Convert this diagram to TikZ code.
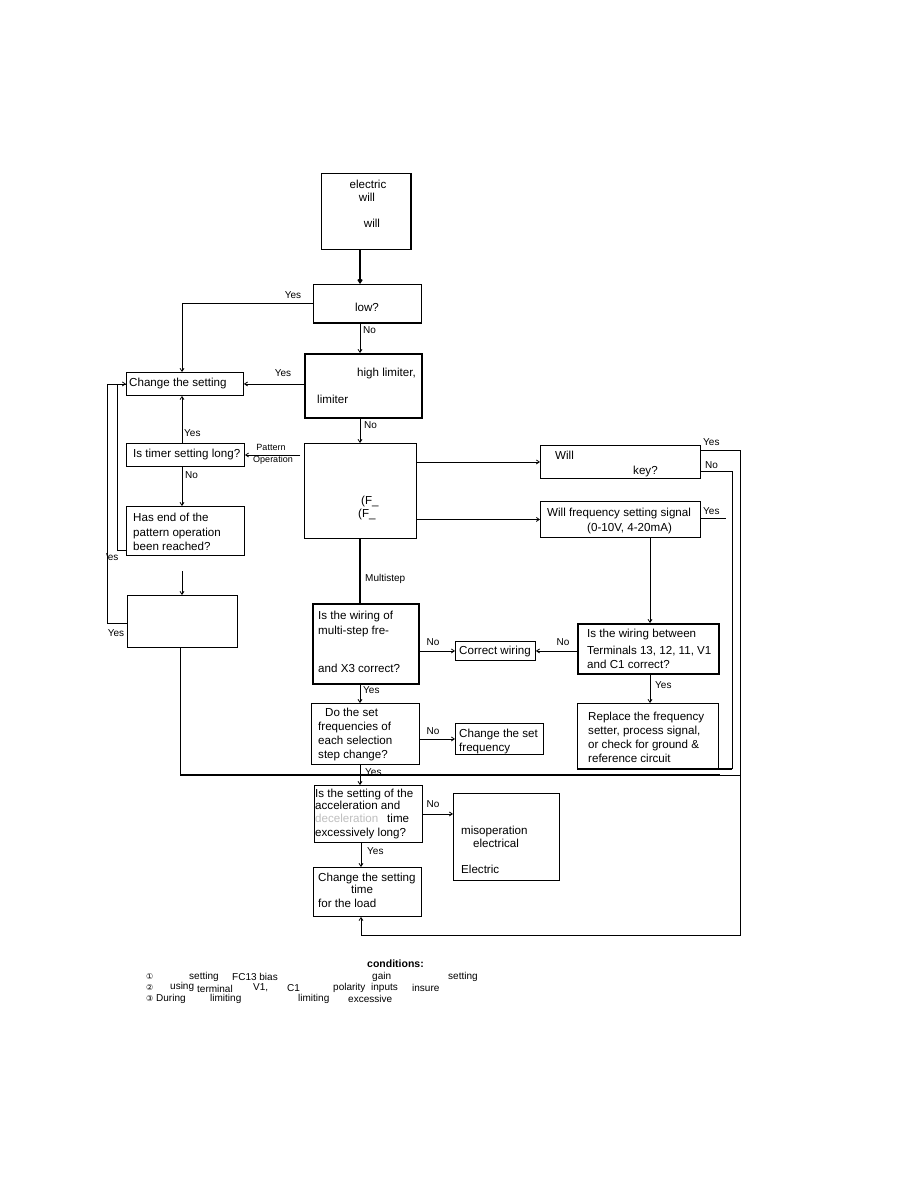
\documentclass[tikz,border=0pt]{standalone}
\usepackage{fontspec}
\setmainfont{Liberation Sans}
\newfontfamily\symfont{DejaVu Sans}
\usetikzlibrary{arrows.meta}
\begin{document}
\begin{tikzpicture}[x=1pt,y=-1pt,
  bx/.style={draw, rectangle, inner sep=0pt, anchor=north west, line width=0.9pt},
  bxt/.style={bx, line width=1.5pt},
  tx/.style={anchor=base west, inner sep=0pt, font=\fontsize{11.6}{14}\selectfont},
  txc/.style={anchor=base, inner sep=0pt, font=\fontsize{11.6}{14}\selectfont},
  lb/.style={inner sep=0pt, font=\fontsize{10}{12}\selectfont},
  lbw/.style={lb, anchor=west},
  nt/.style={anchor=west, inner sep=0pt, font=\fontsize{10}{11}\selectfont},
  ln/.style={line width=0.8pt},
  lnt/.style={line width=1.6pt},
  arr/.style={line width=0.8pt, -{Straight Barb[length=3pt,width=4pt]}},
  arrt/.style={line width=1.6pt, -{Straight Barb[length=3pt,width=4pt]}}]
\fill[white] (0,0) rectangle (920,1188);
\useasboundingbox (0,0) rectangle (920,1188);

% column coordinates
\coordinate (sp) at (360,0);
\coordinate (lc) at (182,0);
\coordinate (c2) at (650,0);

% boxes
\node[bx, minimum width=89pt, minimum height=76pt] (tb) at (321,173) {};
\draw[line width=1.6pt] (tb.north east) -- (tb.south east);
\node[bx, minimum width=108pt, minimum height=38pt] (q1) at (313,284) {};
\draw[line width=1.6pt] (q1.south west) -- (q1.south east);
\node[bxt, minimum width=117pt, minimum height=64pt] (q2) at (304,353) {};
\node[bx, minimum width=117pt, minimum height=23pt] (chg) at (126,372) {};
\node[bx, minimum width=118pt, minimum height=23pt] (timer) at (126,443) {};
\node[bx, minimum width=118pt, minimum height=49pt] (hasend) at (126,506) {};
\node[bx, minimum width=110pt, minimum height=52pt] (lowl) at (127,595) {};
\node[bx, minimum width=112pt, minimum height=95pt] (big) at (304,443) {};
\node[bx, minimum width=160pt, minimum height=33pt] (willkey) at (540,445) {};
\node[bx, minimum width=160pt, minimum height=36pt] (willfreq) at (540,501) {};
\node[bxt, minimum width=106pt, minimum height=80pt] (multi) at (312,603) {};
\node[bx, minimum width=80pt, minimum height=19pt] (corr) at (455,641) {};
\node[bxt, minimum width=141pt, minimum height=50pt] (wirq) at (577,623) {};
\node[bx, minimum width=141pt, minimum height=65pt] (repl) at (577,703) {};
\node[bx, minimum width=108pt, minimum height=61pt] (doset) at (311,703) {};
\node[bx, minimum width=88pt, minimum height=31pt] (chgf) at (455,723) {};
\node[bx, minimum width=108pt, minimum height=57pt] (accel) at (314,785) {};
\node[bx, minimum width=106pt, minimum height=87pt] (misop) at (453,793) {};
\node[bx, minimum width=108pt, minimum height=49pt] (chgt) at (313,867) {};

% texts in boxes
\node[txc] (tb1) at (368,188) {electric};
\node[txc] (tb2) at (367,201) {will};
\node[txc] (tb3) at (372,227) {will};
\node[txc] (q1t) at (367,311) {low?};
\node[tx] (q2a) at (357,376) {high limiter,};
\node[tx] (q2b) at (317,403) {limiter};
\node[tx] (chgt1) at (129,386) {Change the setting};
\node[tx] (tmt) at (133,457) {Is timer setting long?};
\node[tx] (he1) at (133,521) {Has end of the};
\node[tx] (he2) at (133,536) {pattern operation};
\node[tx] (he3) at (133,550) {been reached?};
\node[tx] (bg1) at (361,504) {(F\_};
\node[tx] (bg2) at (358,517) {(F\_};
\node[tx] (wk1) at (555,459) {Will};
\node[tx] (wk2) at (633,474) {key?};
\node[tx] (wf1) at (547,516) {Will frequency setting signal};
\node[tx] (wf2) at (587,531) {(0-10V, 4-20mA)};
\node[tx] (mu1) at (318,619) {Is the wiring of};
\node[tx] (mu2) at (318,634) {multi-step fre-};
\node[tx] (mu3) at (318,672) {and X3 correct?};
\node[tx] (co1) at (459,654) {Correct wiring};
\node[tx] (wq1) at (587,637) {Is the wiring between};
\node[tx] (wq2) at (587,654) {Terminals 13, 12, 11, V1};
\node[tx] (wq3) at (587,668) {and C1 correct?};
\node[tx] (rp1) at (588,720) {Replace the frequency};
\node[tx] (rp2) at (588,734) {setter, process signal,};
\node[tx] (rp3) at (588,748) {or check for ground \&};
\node[tx] (rp4) at (588,762) {reference circuit};
\node[tx] (cf1) at (459,737) {Change the set};
\node[tx] (cf2) at (459,751) {frequency};
\node[tx] (ds1) at (325,716) {Do the set};
\node[tx] (ds2) at (318,730) {frequencies of};
\node[tx] (ds3) at (318,744) {each selection};
\node[tx] (ds4) at (318,758) {step change?};
\node[tx] (ac1) at (315,797) {Is the setting of the};
\node[tx] (ac2) at (315,809) {acceleration and};
\node[tx, text=black!25] (ac3a) at (315,822) {deceleration};
\node[tx] (ac3) at (387,822) {time};
\node[tx] (ac4) at (315,836) {excessively long?};
\node[tx] (mo1) at (461,834) {misoperation};
\node[tx] (mo2) at (473,847) {electrical};
\node[tx] (mo3) at (461,873) {Electric};
\node[tx] (ct1) at (318,881) {Change the setting};
\node[txc] (ct2) at (362,893) {time};
\node[tx] (ct3) at (318,907) {for the load};

% connectors
\draw[arrt] (tb.south -| sp) -- (q1.north -| sp);
\draw[arr] (q1.west) -| (chg.north -| lc);
\node[lb] (l1) at (293,295) {Yes};
\draw[arr] (q1.south -| sp) -- (q2.north -| sp);
\node[lbw] (l2) at (363,330) {No};
\draw[arr] (q2.west |- chg.east) -- (chg.east);
\node[lb] (l3) at (283,373) {Yes};
\draw[arr] (q2.south -| sp) -- (big.north -| sp);
\node[lbw] (l4) at (364,425) {No};
\draw[arr] (timer.north -| lc) -- (chg.south -| lc);
\node[lbw] (l5) at (184,433) {Yes};
\draw[arr] (timer.south -| lc) -- (hasend.north -| lc);
\node[lbw] (l6) at (185,475) {No};
\coordinate (pb) at (300,455);
\draw[arr] (pb) -- (timer.east |- pb);
\node[lb, font=\fontsize{9}{10}\selectfont] (l7) at (271,447) {Pattern};
\node[lb, font=\fontsize{9}{10}\selectfont] (l8) at (273,460) {Operation};
\coordinate (h1) at (117,550);
\draw[arr] (hasend.west |- h1) -- (h1) |- (chg.west);
\node[lb] (l9) at (112,557) {'es};
\coordinate (h2) at (107,623);
\draw[ln] (lowl.west |- h2) -- (h2) |- (chg.west);
\node[lb] (l10) at (116,633) {Yes};
\coordinate (f1) at (182,571);
\draw[arr] (f1) -- (lowl.north -| f1);
\coordinate (m1) at (180,775);
\coordinate (m2) at (740,775);
\draw[ln] (lowl.south -| m1) -- (m1);
\draw[lnt] (m1) -- (720,775);
\draw[ln] (720,775) -- (m2);
\draw[lnt] (big.south -| sp) -- (multi.north -| sp);
\node[lbw] (l11) at (365,579) {Multistep};
\draw[arr] (big.east |- willkey.west) -- (willkey.west);
\draw[arr] (big.east |- willfreq.west) -- (willfreq.west);
\coordinate (r1) at (740,450);
\coordinate (r2) at (740,935);
\coordinate (r3) at (361,935);
\draw[arr] (willkey.east |- r1) -- (r1) -- (r2) -- (r3) -- (chgt.south -| r3);
\node[lbw] (l12) at (703,442) {Yes};
\coordinate (r4) at (732,471);
\coordinate (r5) at (732,769);
\draw[ln] (willkey.east |- r4) -- (r4) -- (r5);
\draw[lnt] (r5) -- (repl.south west |- r5);
\node[lbw] (l13) at (705,465) {No};
\coordinate (r6) at (726,518);
\draw[ln] (willfreq.east |- r6) -- (r6);
\node[lbw] (l14) at (703,511) {Yes};
\draw[arr] (willfreq.south -| c2) -- (wirq.north -| c2);
\draw[arr] (wirq.west |- corr.east) -- (corr.east);
\node[lb] (l15) at (563,642) {No};
\draw[arr] (multi.east |- corr.west) -- (corr.west);
\node[lb] (l16) at (433,642) {No};
\draw[arr] (wirq.south -| c2) -- (repl.north -| c2);
\node[lbw] (l17) at (655,685) {Yes};
\draw[arr] (multi.south -| sp) -- (doset.north -| sp);
\node[lbw] (l18) at (363,690) {Yes};
\draw[arr] (doset.east |- chgf.west) -- (chgf.west);
\node[lb] (l19) at (433,731) {No};
\draw[arr] (doset.south -| sp) -- (accel.north -| sp);
\node[lbw] (l20) at (365,772) {Yes};
\draw[arr] (accel.east) -- (accel.east -| misop.west);
\node[lb] (l21) at (433,804) {No};
\draw[arr] (accel.south -| r3) -- (chgt.north -| r3);
\node[lbw] (l22) at (367,851) {Yes};

% notes
\node[anchor=west, inner sep=0pt, font=\bfseries\fontsize{10.5}{12}\selectfont] (n0) at (367,964) {conditions:};
\node[nt] (n1a) at (146,977) {\symfont\fontsize{8}{9}\selectfont ①};
\node[nt] (n1b) at (189,977) {setting};
\node[nt] (n1c) at (232,977) {FC13 bias};
\node[nt] (n1d) at (372,977) {gain};
\node[nt] (n1e) at (448,977) {setting};
\node[nt] (n2a) at (146,988) {\symfont\fontsize{8}{9}\selectfont ②};
\node[nt] (n2b) at (170,987) {using};
\node[nt] (n2c) at (197,989) {terminal};
\node[nt] (n2d) at (253,988) {V1,};
\node[nt] (n2e) at (287,988) {C1};
\node[nt] (n2f) at (333,988) {polarity};
\node[nt] (n2g) at (371,988) {inputs};
\node[nt] (n2h) at (412,988) {insure};
\node[nt] (n3a) at (146,999) {\symfont\fontsize{8}{9}\selectfont ③};
\node[nt] (n3b) at (156,999) {During};
\node[nt] (n3c) at (210,999) {limiting};
\node[nt] (n3d) at (298,999) {limiting};
\node[nt] (n3e) at (348,999) {excessive};
\end{tikzpicture}
\end{document}
